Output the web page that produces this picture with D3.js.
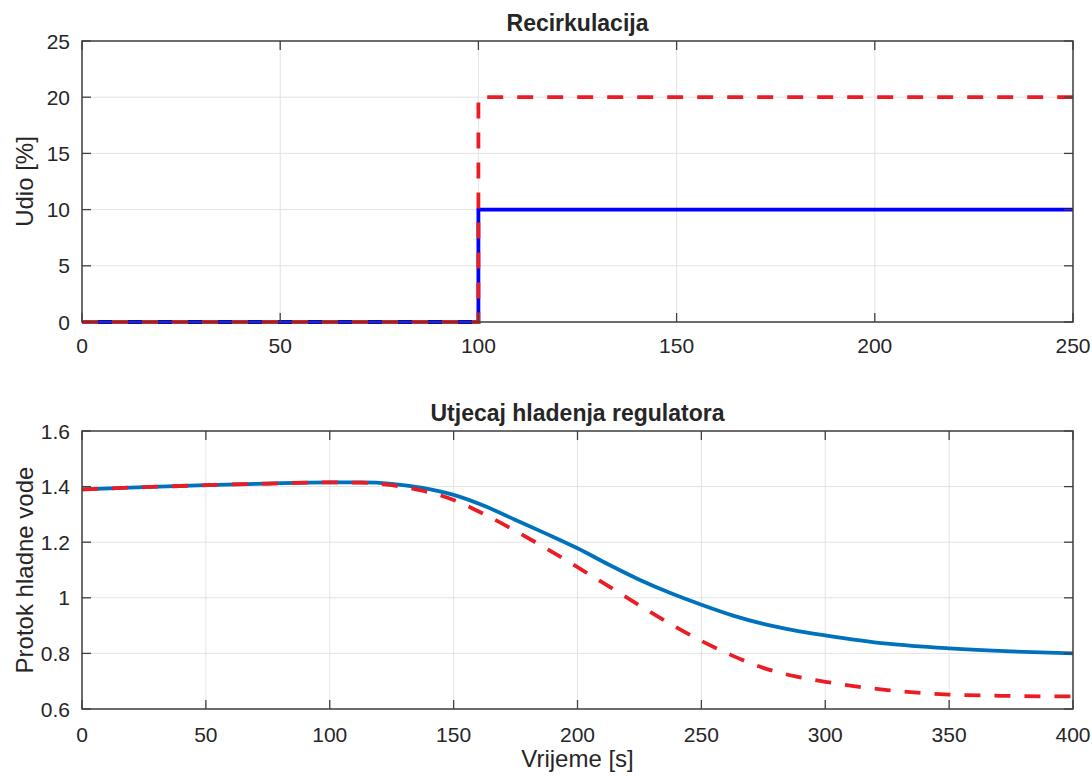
<!DOCTYPE html>
<html lang="hr">
  <head>
    <meta charset="utf-8" />
    <title>Recirkulacija</title>
    <style>
      body { margin: 0; background: #fff; }
      text { font-family: "Liberation Sans", Arial, sans-serif; fill: #262626; }
    </style>
  </head>
  <body>
    <script src="https://d3js.org/d3.v7.min.js"></script>
    <div id="chart"></div>

    <script>
      // top panel: step inputs
      const topTime = [0, 100, 100, 250];
      const topBlue = [0, 0, 10, 10];
      const topRed = [0, 0, 20, 20];
      const topXTicks = [0, 50, 100, 150, 200, 250];
      const topYTicks = [0, 5, 10, 15, 20, 25];

      // bottom panel: cold water flow
      const botTime = [0, 25, 50, 75, 100, 112.5, 125, 137.5, 150, 162.5, 175, 187.5, 200,
        212.5, 225, 237.5, 250, 262.5, 275, 287.5, 300, 325, 350, 375, 400];
      const botBlue = [1.39, 1.398, 1.405, 1.411, 1.415, 1.415, 1.41, 1.395, 1.37, 1.33, 1.28, 1.23, 1.178,
        1.12, 1.065, 1.017, 0.975, 0.937, 0.906, 0.883, 0.865, 0.835, 0.818, 0.807, 0.8];
      const botRed = [1.39, 1.398, 1.405, 1.411, 1.415, 1.414, 1.405, 1.385, 1.352, 1.3, 1.24, 1.177, 1.11,
        1.042, 0.973, 0.906, 0.845, 0.792, 0.748, 0.718, 0.698, 0.668, 0.652, 0.647, 0.645];
      const botXTicks = [0, 50, 100, 150, 200, 250, 300, 350, 400];
      const botYTicks = [0.6, 0.8, 1.0, 1.2, 1.4, 1.6];

      const W = 1092, H = 780;
      const left = 82, right = 1073;

      const svg = d3
        .select("#chart")
        .append("svg")
        .attr("width", W)
        .attr("height", H);

      svg.append("rect").attr("width", W).attr("height", H).attr("fill", "#fff");

      const drawPanel = (cfg) => {
        const x = d3.scaleLinear().domain(cfg.xDomain).range([left, right]);
        const y = d3.scaleLinear().domain(cfg.yDomain).range([cfg.bottom, cfg.top]);
        const g = svg.append("g");

        // grid
        g.selectAll(".gx").data(cfg.xTicks).join("line")
          .attr("x1", d => x(d)).attr("x2", d => x(d))
          .attr("y1", cfg.top).attr("y2", cfg.bottom)
          .attr("stroke", "#e3e3e3").attr("stroke-width", 1);
        g.selectAll(".gy").data(cfg.yTicks).join("line")
          .attr("x1", left).attr("x2", right)
          .attr("y1", d => y(d)).attr("y2", d => y(d))
          .attr("stroke", "#e3e3e3").attr("stroke-width", 1);

        // lines
        cfg.series.forEach(s => {
          const pts = cfg.xs.map((t, i) => [t, s.values[i]]);
          g.append("path")
            .attr("d", d3.line().x(d => x(d[0])).y(d => y(d[1])).curve(cfg.curve)(pts))
            .attr("fill", "none")
            .attr("stroke", s.color)
            .attr("stroke-width", 3.8)
            .attr("stroke-dasharray", s.dash || null);
        });

        // box + ticks on all sides (inward)
        const tl = 9;
        g.selectAll(".tb").data(cfg.xTicks).join("line")
          .attr("x1", d => x(d)).attr("x2", d => x(d))
          .attr("y1", cfg.bottom).attr("y2", cfg.bottom - tl)
          .attr("stroke", "#404040").attr("stroke-width", 1.3);
        g.selectAll(".tt").data(cfg.xTicks).join("line")
          .attr("x1", d => x(d)).attr("x2", d => x(d))
          .attr("y1", cfg.top).attr("y2", cfg.top + tl)
          .attr("stroke", "#404040").attr("stroke-width", 1.3);
        g.selectAll(".tl").data(cfg.yTicks).join("line")
          .attr("x1", left).attr("x2", left + tl)
          .attr("y1", d => y(d)).attr("y2", d => y(d))
          .attr("stroke", "#404040").attr("stroke-width", 1.3);
        g.selectAll(".tr").data(cfg.yTicks).join("line")
          .attr("x1", right).attr("x2", right - tl)
          .attr("y1", d => y(d)).attr("y2", d => y(d))
          .attr("stroke", "#404040").attr("stroke-width", 1.3);
        g.append("rect")
          .attr("x", left).attr("y", cfg.top)
          .attr("width", right - left).attr("height", cfg.bottom - cfg.top)
          .attr("fill", "none").attr("stroke", "#404040").attr("stroke-width", 1.5);

        // tick labels
        g.selectAll(".xl").data(cfg.xTicks).join("text")
          .attr("x", d => x(d)).attr("y", cfg.bottom + cfg.xLabelOff)
          .attr("text-anchor", "middle").attr("font-size", 21)
          .text(d => d);
        g.selectAll(".yl").data(cfg.yTicks).join("text")
          .attr("x", left - 12).attr("y", d => y(d) + 7.5)
          .attr("text-anchor", "end").attr("font-size", 21)
          .text(d => d3.format("~g")(d));

        // title
        g.append("text")
          .attr("x", (left + right) / 2).attr("y", cfg.top - 10)
          .attr("text-anchor", "middle").attr("font-size", 23).attr("font-weight", "bold")
          .attr("fill", "#000")
          .text(cfg.title);

        // y label
        g.append("text")
          .attr("transform", `translate(33,${(cfg.top + cfg.bottom) / 2}) rotate(-90)`)
          .attr("text-anchor", "middle").attr("font-size", 24)
          .text(cfg.yLabel);

        if (cfg.xLabel) {
          g.append("text")
            .attr("x", (left + right) / 2).attr("y", cfg.bottom + 58)
            .attr("text-anchor", "middle").attr("font-size", 24)
            .text(cfg.xLabel);
        }
      };

      drawPanel({
        top: 41, bottom: 322,
        xDomain: [0, 250], yDomain: [0, 25],
        xTicks: topXTicks, yTicks: topYTicks,
        xs: topTime, curve: d3.curveLinear,
        series: [
          { values: topBlue, color: "#0000ff" },
          { values: topRed, color: "#ec1c24", dash: "16,14" }
        ],
        xLabelOff: 31,
        title: "Recirkulacija",
        yLabel: "Udio [%]"
      });

      drawPanel({
        top: 431, bottom: 709,
        xDomain: [0, 400], yDomain: [0.6, 1.6],
        xTicks: botXTicks, yTicks: botYTicks,
        xs: botTime, curve: d3.curveMonotoneX,
        series: [
          { values: botBlue, color: "#0072bd" },
          { values: botRed, color: "#ec1c24", dash: "16,14" }
        ],
        xLabelOff: 33,
        title: "Utjecaj hladenja regulatora",
        yLabel: "Protok hladne vode",
        xLabel: "Vrijeme [s]"
      });
    </script>
  </body>
</html>
